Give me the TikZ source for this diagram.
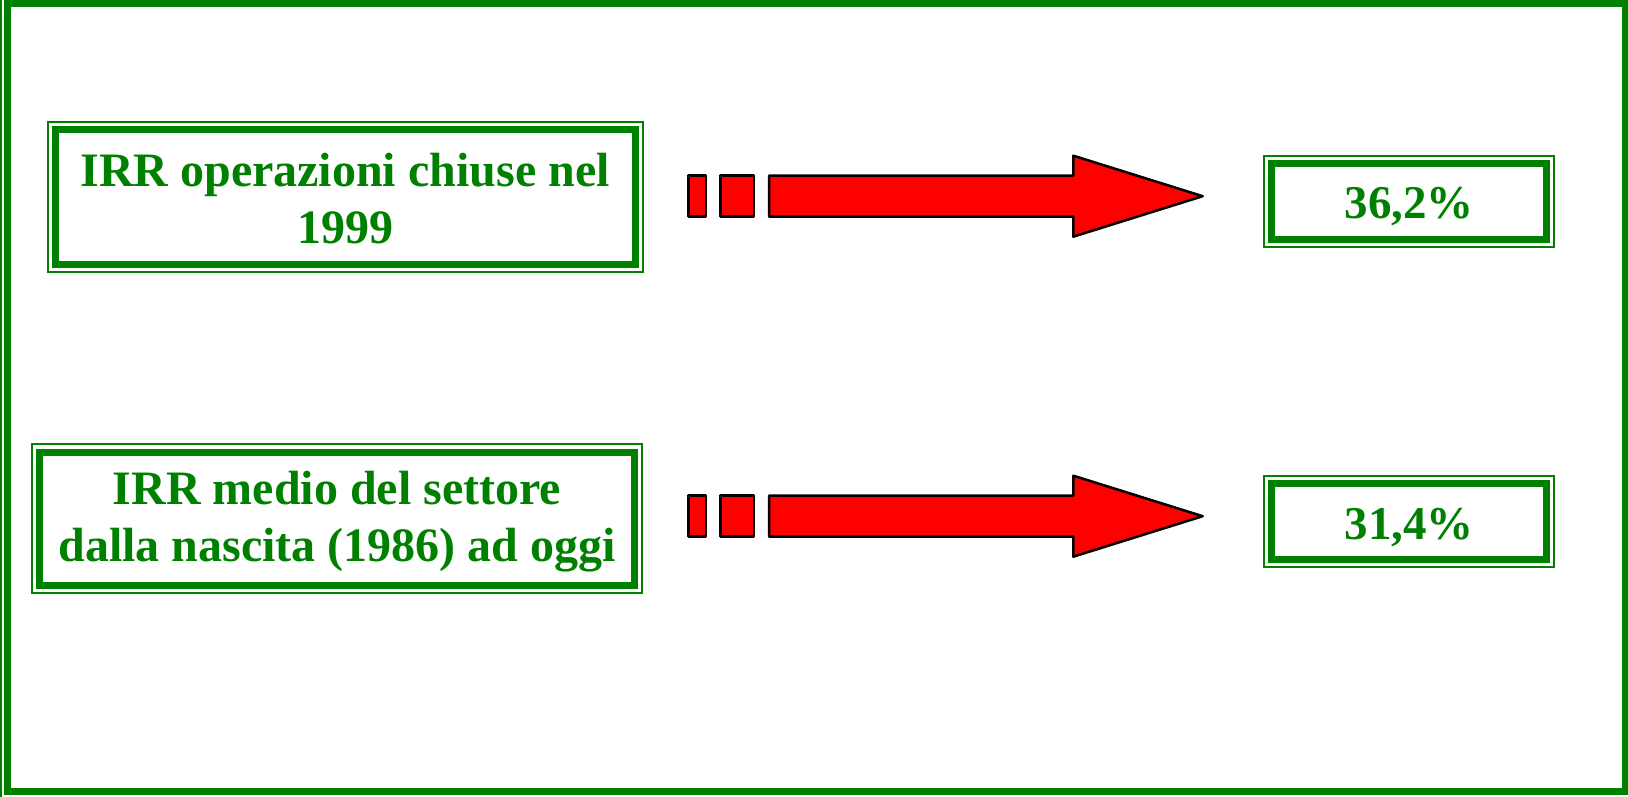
\documentclass[tikz,border=0pt]{standalone}
\usepackage{fontspec}
\setmainfont{Liberation Serif}
\usetikzlibrary{calc}
\definecolor{irrgreen}{RGB}{0,128,0}
\definecolor{irrred}{RGB}{255,0,0}
\tikzset{
  thinframe/.style={draw=irrgreen, line width=2pt, inner sep=0pt, outer sep=0pt},
  thickframe/.style={draw=irrgreen, line width=7pt},
  label/.style={text=irrgreen, inner sep=0pt, font=\fontsize{48}{57}\selectfont\bfseries, align=center},
  redshape/.style={fill=irrred, draw=black, line width=2.5pt, line join=round},
}
\begin{document}
\begin{tikzpicture}[x=1pt,y=-1pt]
\useasboundingbox (0,0) rectangle (1628,797);
% outer frame
\draw[irrgreen, line width=2pt] (1,0) -- (1,797);
\draw[thickframe] (7.5,4) rectangle (1625,791.5);

% left boxes
\node[thinframe, minimum width=595pt, minimum height=150pt] (b1) at (345,197) {};
\draw[thickframe] ($(b1.north west)+(7.7,7.7)$) rectangle ($(b1.south east)+(-7.5,-7.5)$);
\node[label] (t1) at ($(b1.center)+(0,2)$) {IRR operazioni chiuse nel\\1999};
\node[thinframe, minimum width=610pt, minimum height=148.5pt] (b2) at (337,518.7) {};
\draw[thickframe] ($(b2.north west)+(7.7,7.7)$) rectangle ($(b2.south east)+(-7.5,-7.5)$);
\node[label] (t2) at ($(b2.center)+(0,3)$) {IRR medio del settore\\dalla nascita (1986) ad oggi};

% right boxes
\node[thinframe, minimum width=290.3pt, minimum height=91.3pt] (r1) at (1409.2,201.4) {};
\draw[thickframe] ($(r1.north west)+(7.7,7.7)$) rectangle ($(r1.south east)+(-7.5,-7.5)$);
\node[label, font=\fontsize{47}{56}\selectfont\bfseries] (v1) at ($(r1.center)+(0,5.5)$) {36,2\%};
\node[thinframe, minimum width=290.3pt, minimum height=91.3pt] (r2) at (1409.2,521.8) {};
\draw[thickframe] ($(r2.north west)+(7.7,7.7)$) rectangle ($(r2.south east)+(-7.5,-7.5)$);
\node[label, font=\fontsize{47}{56}\selectfont\bfseries] (v2) at ($(r2.center)+(0,5.5)$) {31,4\%};

% arrows
\foreach \dy in {0,320}{
  \begin{scope}[yshift=-\dy pt]
    \draw[redshape] (688.3,175.7) rectangle (706,216.7);
    \draw[redshape] (720.7,175.7) rectangle (754,216.7);
    \draw[redshape] (769,175.7) -- (1073.3,175.7) -- (1073.3,155.7) -- (1202.7,196.2)
      -- (1073.3,236.7) -- (1073.3,216.7) -- (769,216.7) -- cycle;
  \end{scope}
}
\end{tikzpicture}
\end{document}
